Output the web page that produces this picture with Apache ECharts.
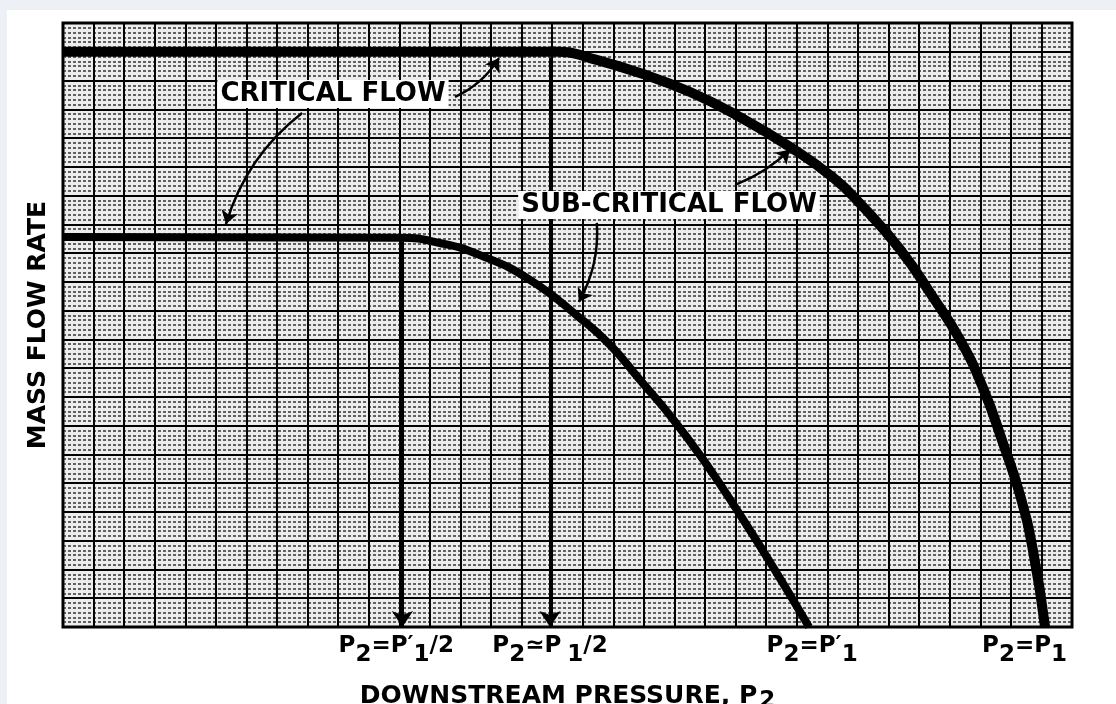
<!DOCTYPE html>
<html>
<head>
<meta charset="utf-8">
<script src="https://cdn.jsdelivr.net/npm/echarts@6/dist/echarts.min.js"></script>
<style>
html, body { margin: 0; padding: 0; background: #edf1f6; }
#chart_flow { position: absolute; left: 7px; top: 10px; width: 1109px; height: 694px; background: #fff; }
</style>
</head>
<body>
<div id="chart_flow"></div>
<script>
// 曲线数据：横轴按坐标纸的列计（0-33），纵轴按行计（0-21）
var upperX = [0, 16.25, 17.24, 18.87, 20.51, 22.14, 23.78, 25.18, 26.07, 27.37, 28.45, 29.34, 30.09, 30.74, 31.3, 31.72, 32.12];
var upperY = [20, 20, 19.78, 19.26, 18.6, 17.73, 16.69, 15.63, 14.72, 13.14, 11.47, 9.98, 8.31, 6.4, 4.59, 2.68, 0];
var lowerX = [0, 11.02, 12.33, 13.64, 15.27, 16.91, 17.89, 18.87, 19.92, 20.99, 22.04, 23.22, 24.4];
var lowerY = [13.56, 13.53, 13.35, 12.93, 12.07, 10.74, 9.81, 8.59, 7.27, 5.74, 4.07, 2.09, 0];

// 横轴下方的标注
var tickX = [10.9, 15.93, 24.5, 31.45];
var tickLabels = [
    '{n|P}{s|2}{n|=P′}{s|1}{n|/2}',
    '{n|P}{s|2}{n|≃P}{g|1}{n|/2}',
    '{n|P}{s|2}{n|=P′}{s|1}',
    '{n|P}{s|2}{n|=P}{s|1}'
];

// 竖直箭头（起点在曲线上）
var dropX = [11.1, 15.93];
var dropTop = [13.4, 19.8];

// 文字说明的指示箭头 [x1, y1, x2, y2, 弯曲度]
var pointerArrows = [
    [12.82, 18.43, 14.26, 19.78, -0.15],
    [7.82, 17.87, 5.33, 14.01, -0.16],
    [22.04, 15.4, 23.77, 16.59, -0.1],
    [17.46, 14.05, 16.87, 11.3, 0.15]
];

function zip(xs, ys) {
    return xs.map(function (x, i) { return [x, ys[i]]; });
}

var font = '"DejaVu Sans", sans-serif';
var myChart = echarts.init(document.getElementById('chart_flow'));

var dropLines = dropX.map(function (x, i) {
    return { coords: [[x, dropTop[i]], [x, 0]] };
});
var pointerLines = pointerArrows.map(function (a) {
    return { coords: [[a[0], a[1]], [a[2], a[3]]], lineStyle: { curveness: a[4] } };
});

var tickRich = {
    n: { fontFamily: font, fontWeight: 'bold', fontSize: 23, color: '#000', verticalAlign: 'top', lineHeight: 26 },
    s: { fontFamily: font, fontWeight: 'bold', fontSize: 23, color: '#000', verticalAlign: 'top', lineHeight: 26, padding: [9, 0, 0, 0] },
    g: { fontFamily: font, fontWeight: 'bold', fontSize: 23, color: '#000', verticalAlign: 'top', lineHeight: 26, padding: [9, 0, 0, 6] }
};

var option = {
    animation: false,
    grid: {
        left: 56, top: 13, width: 1009, height: 604,
        outerBoundsMode: 'none',
        containLabel: false,
        show: true,
        borderColor: '#000',
        borderWidth: 3,
        backgroundColor: '#ececec'
    },
    xAxis: {
        type: 'value',
        min: 0, max: 33, interval: 1,
        name: '{n|DOWNSTREAM PRESSURE, P}{s|2}',
        nameLocation: 'middle',
        nameGap: 57,
        nameTextStyle: {
            rich: {
                n: { fontFamily: font, fontWeight: 'bold', fontSize: 25, color: '#000', verticalAlign: 'top', lineHeight: 28 },
                s: { fontFamily: font, fontWeight: 'bold', fontSize: 23, color: '#000', verticalAlign: 'top', lineHeight: 28, padding: [6, 0, 0, 2] }
            }
        },
        axisLine: { show: false },
        axisTick: { show: false },
        axisLabel: { show: false },
        splitLine: { show: true, lineStyle: { color: '#000', width: 2 } }
    },
    yAxis: {
        type: 'value',
        min: 0, max: 21, interval: 1,
        name: 'MASS FLOW RATE',
        nameLocation: 'middle',
        nameRotate: 90,
        nameGap: 12,
        nameTextStyle: { fontFamily: font, fontWeight: 'bold', fontSize: 25, color: '#000' },
        axisLine: { show: false },
        axisTick: { show: false },
        axisLabel: { show: false },
        splitLine: { show: true, lineStyle: { color: '#000', width: 2 } },
        minorTick: { show: false, splitNumber: 6 },
        minorSplitLine: { show: true, lineStyle: { color: '#333', width: 1.5, type: [3, 2] } }
    },
    series: [
        {
            type: 'line',
            data: zip(upperX, upperY),
            smooth: 0.5,
            showSymbol: false,
            lineStyle: { color: '#000', width: 10 },
            z: 5
        },
        {
            type: 'line',
            data: zip(lowerX, lowerY),
            smooth: 0.5,
            showSymbol: false,
            lineStyle: { color: '#000', width: 8 },
            z: 5
        },
        {
            type: 'lines',
            coordinateSystem: 'cartesian2d',
            data: dropLines,
            symbol: ['none', 'arrow'],
            symbolSize: 16,
            lineStyle: { color: '#000', width: 3, opacity: 1 },
            z: 4
        },
        {
            type: 'lines',
            coordinateSystem: 'cartesian2d',
            data: pointerLines,
            symbol: ['none', 'arrow'],
            symbolSize: 13,
            lineStyle: { color: '#000', width: 2.5, opacity: 1 },
            z: 6
        },
        {
            type: 'scatter',
            data: tickX.map(function (x) { return [x, 0]; }),
            symbolSize: 0.1,
            itemStyle: { color: '#000', opacity: 1 },
            silent: true,
            label: {
                show: true,
                position: 'bottom',
                distance: 7,
                color: '#000',
                opacity: 1,
                formatter: function (p) { return tickLabels[p.dataIndex]; },
                rich: tickRich
            }
        }
    ],
    graphic: [
        {
            type: 'text', x: 326, y: 84, z: 10,
            style: {
                text: 'CRITICAL FLOW', font: 'bold 26px ' + font, fill: '#000',
                align: 'center', verticalAlign: 'middle', textAlign: 'center', textVerticalAlign: 'middle',
                backgroundColor: '#fff', padding: [1, 3]
            }
        },
        {
            type: 'text', x: 662, y: 195, z: 10,
            style: {
                text: 'SUB-CRITICAL FLOW', font: 'bold 26px ' + font, fill: '#000',
                align: 'center', verticalAlign: 'middle', textAlign: 'center', textVerticalAlign: 'middle',
                backgroundColor: '#fff', padding: [1, 3]
            }
        }
    ]
};

myChart.setOption(option);
</script>
</body>
</html>
